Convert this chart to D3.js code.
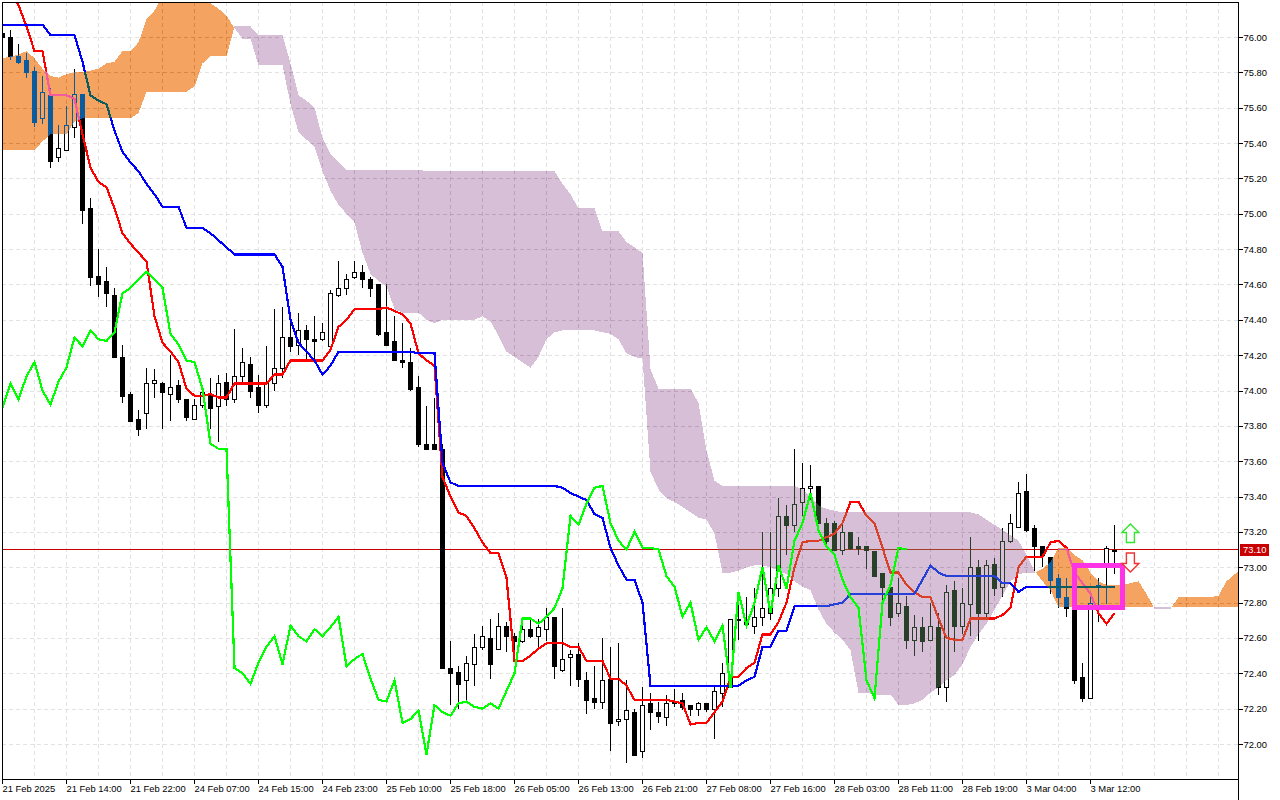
<!DOCTYPE html>
<html>
<head>
<meta charset="utf-8">
<script src="https://cdn.jsdelivr.net/npm/d3@7"></script>
<style>
html, body { margin: 0; padding: 0; background: #fff; }
svg { display: block; }
text { font-family: "Liberation Sans", sans-serif; font-size: 9.4px; fill: #000; }
</style>
</head>
<body>
<div id="chart"></div>
<script>
var wi = 1280;
var he = 800;

// ohlc, one row = 10 bars
var opens = [
  76.02,76.00,75.89,75.87,75.81,75.54,75.67,75.32,75.36,75.49,
  75.68,75.03,74.65,74.62,74.54,74.19,73.98,73.84,73.87,74.04,
  74.04,73.98,74.03,73.95,73.84,73.92,73.98,73.91,74.05,73.95,
  74.08,74.15,74.02,73.92,74.04,74.13,74.30,74.26,74.34,74.29,
  74.29,74.25,74.54,74.58,74.64,74.67,74.63,74.60,74.33,74.28,
  74.17,74.16,74.02,73.70,73.70,73.67,72.43,72.41,72.36,72.45,
  72.55,72.60,72.54,72.67,72.61,72.58,72.65,72.61,72.65,72.72,
  72.42,72.49,72.51,72.36,72.26,72.24,72.37,72.13,72.14,72.18,
  71.96,72.23,72.18,72.15,72.23,72.25,72.22,72.20,72.23,72.20,
  72.29,72.32,72.71,72.71,72.67,72.72,72.74,72.88,73.29,73.24,
  73.37,73.45,73.46,73.25,73.25,73.10,73.20,73.12,73.12,73.09,
  72.97,72.89,72.74,72.78,72.59,72.66,72.59,72.66,72.32,72.87,
  72.67,72.79,73.00,72.74,73.02,72.89,73.15,73.23,73.43,73.22,
  73.12,73.06,72.94,72.83,72.77,72.38,72.26,72.89,73.01,73.10];
var highs = [
  76.04,76.04,75.96,75.91,75.83,75.78,75.71,75.50,75.61,75.82,
  75.68,75.09,74.80,74.70,74.58,74.26,73.99,73.89,74.13,74.12,
  74.05,74.20,74.06,73.95,73.95,74.02,74.07,74.09,74.10,74.35,
  74.24,74.19,74.09,74.25,74.46,74.47,74.40,74.44,74.37,74.42,
  74.38,74.57,74.73,74.66,74.73,74.71,74.64,74.60,74.60,74.42,
  74.38,74.24,74.08,73.91,73.96,73.70,72.58,72.44,72.50,72.62,
  72.67,72.71,72.74,72.69,72.63,72.71,72.70,72.71,72.77,72.72,
  72.77,72.53,72.57,72.41,72.44,72.60,72.55,72.57,72.36,72.20,
  72.32,72.29,72.24,72.28,72.31,72.29,72.22,72.24,72.23,72.33,
  72.46,72.71,72.85,72.83,72.88,73.20,73.20,73.39,73.35,73.67,
  73.59,73.58,73.46,73.28,73.26,73.25,73.20,73.17,73.12,73.09,
  72.97,72.89,72.94,72.84,72.73,72.72,72.80,72.74,72.90,72.92,
  72.88,73.17,73.04,73.04,73.05,73.22,73.30,73.48,73.53,73.24,
  73.12,73.06,72.96,72.94,72.78,72.46,72.84,72.94,73.12,73.24];
var lows = [
  75.99,75.87,75.85,75.77,75.49,75.51,75.26,75.29,75.36,75.43,
  74.94,74.59,74.53,74.47,74.19,73.93,73.82,73.74,73.78,73.96,
  73.78,73.83,73.93,73.83,73.84,73.90,73.78,73.71,73.91,73.93,
  74.04,73.96,73.87,73.90,74.00,74.07,74.22,74.20,74.17,74.18,
  74.28,74.24,74.53,74.54,74.63,74.58,74.53,74.31,74.25,74.17,
  74.13,74.00,73.68,73.67,73.67,72.43,72.22,72.20,72.25,72.33,
  72.53,72.37,72.53,72.52,72.47,72.57,72.60,72.55,72.58,72.37,
  72.41,72.33,72.32,72.17,72.20,72.20,71.96,72.10,71.89,71.93,
  71.92,72.08,72.12,72.10,72.21,72.19,72.16,72.16,72.18,72.03,
  72.21,72.32,72.59,72.67,72.62,72.67,72.70,72.83,73.07,73.20,
  73.29,73.38,73.25,73.13,73.10,73.07,73.10,73.07,72.99,72.95,
  72.80,72.67,72.72,72.54,72.50,72.52,72.59,72.28,72.24,72.52,
  72.62,72.61,72.58,72.72,72.84,72.83,73.14,73.22,73.20,72.98,
  73.00,72.85,72.77,72.72,72.34,72.24,72.26,72.69,72.79,72.96];
var closes = [
  76.00,75.89,75.86,75.80,75.52,75.69,75.30,75.37,75.50,75.68,
  75.02,74.64,74.60,74.55,74.19,73.97,73.83,73.78,74.04,74.06,
  73.99,74.02,73.95,73.85,73.92,73.99,73.90,74.04,73.95,74.08,
  74.16,74.00,73.92,74.05,74.13,74.30,74.25,74.34,74.29,74.28,
  74.33,74.55,74.58,74.63,74.67,74.63,74.58,74.32,74.26,74.17,
  74.16,74.01,73.70,73.67,73.67,72.43,72.40,72.34,72.46,72.55,
  72.61,72.45,72.67,72.61,72.58,72.65,72.61,72.66,72.72,72.44,
  72.48,72.51,72.37,72.25,72.24,72.36,72.12,72.14,72.19,71.94,
  72.22,72.18,72.16,72.23,72.24,72.21,72.20,72.23,72.20,72.30,
  72.40,72.71,72.71,72.68,72.72,72.77,72.88,73.29,73.24,73.36,
  73.45,73.46,73.25,73.15,73.10,73.20,73.11,73.11,73.10,72.95,
  72.89,72.72,72.80,72.59,72.66,72.58,72.67,72.32,72.86,72.67,
  72.80,73.00,72.74,73.01,72.88,73.15,73.25,73.42,73.21,73.12,
  73.07,72.93,72.83,72.77,72.36,72.26,72.80,72.90,73.11,73.10];

// ichimoku
var tenkan = [
  76.30,76.24,76.18,76.06,75.92,75.92,75.67,75.67,75.67,75.65,
  75.45,75.26,75.18,75.15,75.03,74.89,74.83,74.78,74.73,74.42,
  74.27,74.22,74.16,74.01,73.97,73.97,73.98,73.96,73.96,74.04,
  74.04,74.04,74.04,74.04,74.09,74.09,74.17,74.17,74.17,74.17,
  74.17,74.23,74.36,74.40,74.46,74.46,74.46,74.46,74.47,74.45,
  74.43,74.38,74.21,74.17,74.14,73.51,73.40,73.31,73.29,73.22,
  73.14,73.08,73.08,72.94,72.47,72.47,72.50,72.54,72.57,72.57,
  72.57,72.55,72.55,72.47,72.47,72.47,72.37,72.37,72.33,72.25,
  72.25,72.25,72.25,72.25,72.24,72.23,72.11,72.12,72.12,72.18,
  72.24,72.38,72.38,72.43,72.46,72.62,72.62,72.69,72.80,73.00,
  73.14,73.15,73.15,73.17,73.19,73.25,73.37,73.37,73.29,73.25,
  73.11,72.97,72.97,72.90,72.86,72.83,72.83,72.71,72.60,72.59,
  72.59,72.71,72.71,72.71,72.71,72.73,72.77,73.00,73.06,73.06,
  73.06,73.14,73.15,73.11,72.97,72.91,72.85,72.74,72.68,72.74];
var kijun = [
  76.07,76.07,76.07,76.07,76.07,76.07,76.01,76.01,76.01,76.01,
  75.86,75.67,75.64,75.62,75.47,75.35,75.29,75.24,75.17,75.11,
  75.04,75.04,75.04,74.92,74.92,74.92,74.89,74.85,74.81,74.77,
  74.77,74.77,74.77,74.77,74.77,74.70,74.40,74.27,74.22,74.17,
  74.09,74.14,74.22,74.22,74.22,74.22,74.22,74.22,74.22,74.22,
  74.22,74.22,74.21,74.21,74.21,73.59,73.48,73.46,73.46,73.46,
  73.46,73.46,73.46,73.46,73.46,73.46,73.46,73.46,73.46,73.46,
  73.45,73.42,73.40,73.38,73.30,73.28,73.11,73.01,72.93,72.93,
  72.80,72.33,72.33,72.33,72.33,72.33,72.33,72.33,72.33,72.33,
  72.33,72.33,72.33,72.36,72.38,72.55,72.55,72.64,72.64,72.78,
  72.78,72.78,72.78,72.78,72.79,72.80,72.85,72.85,72.85,72.85,
  72.85,72.85,72.85,72.85,72.85,72.93,73.01,72.97,72.95,72.95,
  72.95,72.95,72.95,72.95,72.95,72.91,72.91,72.86,72.89,72.89,
  72.89,72.89,72.89,72.89,72.89,72.89,72.89,72.89,72.89,72.89];
var chikou = [
  73.90,74.04,73.95,74.08,74.16,74.00,73.92,74.05,74.13,74.30,
  74.25,74.34,74.29,74.28,74.33,74.55,74.58,74.63,74.67,74.63,
  74.58,74.32,74.26,74.17,74.16,74.01,73.70,73.67,73.67,72.43,
  72.40,72.34,72.46,72.55,72.61,72.45,72.67,72.61,72.58,72.65,
  72.61,72.66,72.72,72.44,72.48,72.51,72.37,72.25,72.24,72.36,
  72.12,72.14,72.19,71.94,72.22,72.18,72.16,72.23,72.24,72.21,
  72.20,72.23,72.20,72.30,72.40,72.71,72.71,72.68,72.72,72.77,
  72.88,73.29,73.24,73.36,73.45,73.46,73.25,73.15,73.10,73.20,
  73.11,73.11,73.10,72.95,72.89,72.72,72.80,72.59,72.66,72.58,
  72.67,72.32,72.86,72.67,72.80,73.00,72.74,73.01,72.88,73.15,
  73.25,73.42,73.21,73.12,73.07,72.93,72.83,72.77,72.36,72.26,
  72.80,72.90,73.11,73.10];
var senkouA = [
  75.88,75.89,75.90,75.92,75.88,75.82,75.78,75.77,75.79,75.80,
  75.80,75.81,75.82,75.85,75.86,75.92,75.92,75.97,76.10,76.15,
  76.23,76.23,76.23,76.23,76.23,76.23,76.19,76.16,76.12,76.05,
  75.99,75.99,75.84,75.84,75.84,75.84,75.62,75.46,75.42,75.38,
  75.24,75.13,75.05,75.00,74.95,74.78,74.66,74.62,74.59,74.46,
  74.44,74.44,74.44,74.40,74.38,74.40,74.40,74.40,74.40,74.40,
  74.42,74.39,74.31,74.22,74.19,74.16,74.13,74.19,74.29,74.33,
  74.34,74.34,74.34,74.34,74.34,74.33,74.32,74.29,74.21,74.19,
  74.18,73.54,73.44,73.39,73.37,73.34,73.31,73.28,73.27,73.19,
  72.97,72.97,72.98,73.00,73.01,73.01,73.00,72.98,72.96,72.92,
  72.89,72.87,72.76,72.68,72.63,72.59,72.53,72.29,72.29,72.28,
  72.28,72.28,72.22,72.22,72.23,72.25,72.29,72.32,72.36,72.39,
  72.45,72.55,72.62,72.68,72.76,72.84,72.92,72.96,72.97,72.97,
  72.99,73.03,73.11,73.11,73.07,73.04,72.97,72.92,72.90,72.90,
  72.90,72.91,72.92,72.85,72.765,72.765,72.765,72.83,72.83,72.83,
  72.83,72.83,72.84,72.92,72.96,72.99];
var senkouB = [
  75.36,75.36,75.36,75.36,75.36,75.41,75.45,75.45,75.45,75.52,
  75.54,75.54,75.54,75.54,75.54,75.54,75.54,75.57,75.69,75.69,
  75.69,75.69,75.69,75.69,75.72,75.85,75.89,75.89,75.89,76.06,
  76.06,76.06,76.01,76.01,76.01,76.01,75.85,75.67,75.64,75.60,
  75.43,75.34,75.29,75.25,75.25,75.25,75.25,75.25,75.25,75.25,
  75.25,75.25,75.25,75.24,75.24,75.24,75.24,75.24,75.24,75.24,
  75.24,75.24,75.24,75.24,75.24,75.24,75.24,75.24,75.24,75.24,
  75.17,75.11,75.03,75.03,75.03,74.90,74.90,74.90,74.84,74.81,
  74.78,74.12,74.01,74.01,74.01,74.01,74.01,73.93,73.66,73.49,
  73.46,73.46,73.46,73.46,73.46,73.46,73.46,73.46,73.46,73.46,
  73.44,73.40,73.35,73.33,73.32,73.31,73.31,73.31,73.31,73.31,
  73.31,73.31,73.31,73.31,73.31,73.31,73.31,73.31,73.31,73.31,
  73.31,73.31,73.30,73.27,73.24,73.21,73.18,73.15,73.07,72.98,
  72.92,72.87,72.775,72.775,72.775,72.775,72.775,72.775,72.775,72.775,
  72.775,72.775,72.775,72.775,72.775,72.775,72.775,72.775,72.775,72.775,
  72.775,72.775,72.775,72.775,72.775,72.775];

// axis labels
var priceTicks = [76,75.8,75.6,75.4,75.2,75,74.8,74.6,74.4,74.2,74,73.8,73.6,73.4,73.2,73,72.8,72.6,72.4,72.2,72];
var timeLabels = ["21 Feb 2025","21 Feb 14:00","21 Feb 22:00","24 Feb 07:00","24 Feb 15:00","24 Feb 23:00",
  "25 Feb 10:00","25 Feb 18:00","26 Feb 05:00","26 Feb 13:00","26 Feb 21:00","27 Feb 08:00",
  "27 Feb 16:00","28 Feb 03:00","28 Feb 11:00","28 Feb 19:00","3 Mar 04:00","3 Mar 12:00"];
var lastPrice = 73.10;
var boxBars = [134.08, 140.05];
var boxPrices = [73.01, 72.77];
var arrowBar = 141.05;
var arrowUpPrice = 73.245;
var arrowDownPrice = 72.973;

var left = 2, right = 1238, top_ = 2, bottom = 779;

var xScale = d3.scaleLinear().domain([0, 155]).range([2, 1242]);
var yScale = d3.scaleLinear().domain([76, 72]).range([37, 744]);

var svg = d3.select("#chart").append("svg")
  .attr("width", wi)
  .attr("height", he);

svg.append("rect").attr("width", wi).attr("height", he).attr("fill", "#fff");

svg.append("clipPath").attr("id", "plot")
  .append("rect")
  .attr("x", left).attr("y", top_)
  .attr("width", right - left).attr("height", bottom - top_);

var plot = svg.append("g").attr("clip-path", "url(#plot)");

// the clipped group blends on its own, so it needs its own white under the cloud
plot.append("rect")
  .attr("x", left).attr("y", top_)
  .attr("width", right - left).attr("height", bottom - top_)
  .attr("fill", "#fff");

//grid
var gridBars = d3.range(4, 155, 4);
plot.append("g").selectAll("line").data(gridBars).enter().append("line")
  .attr("x1", function(d) { return Math.round(xScale(d)) + 0.5; })
  .attr("x2", function(d) { return Math.round(xScale(d)) + 0.5; })
  .attr("y1", top_).attr("y2", bottom)
  .attr("stroke", "#e2e2e2").attr("stroke-dasharray", "4,3");
plot.append("g").selectAll("line").data(priceTicks).enter().append("line")
  .attr("y1", function(d) { return Math.round(yScale(d)) + 0.5; })
  .attr("y2", function(d) { return Math.round(yScale(d)) + 0.5; })
  .attr("x1", left).attr("x2", right)
  .attr("stroke", "#e2e2e2").attr("stroke-dasharray", "4,3");

// last price line
plot.append("line")
  .attr("x1", left).attr("x2", right)
  .attr("y1", Math.floor(yScale(lastPrice)) + 0.5)
  .attr("y2", Math.floor(yScale(lastPrice)) + 0.5)
  .attr("stroke", "#c80000");

//candles
var candles = plot.append("g").attr("shape-rendering", "crispEdges");
candles.selectAll("line").data(opens).enter().append("line")
  .attr("x1", function(d, i) { return xScale(i) + 0.5; })
  .attr("x2", function(d, i) { return xScale(i) + 0.5; })
  .attr("y1", function(d, i) { return Math.round(yScale(highs[i])); })
  .attr("y2", function(d, i) { return Math.round(yScale(lows[i])); })
  .attr("stroke", "#000");
candles.selectAll("rect").data(opens).enter().append("rect")
  .attr("x", function(d, i) { return xScale(i) - 1.5; })
  .attr("width", 4)
  .attr("y", function(d, i) { return Math.round(yScale(Math.max(d, closes[i]))) + 0.5; })
  .attr("height", function(d, i) { return Math.max(1, Math.round(yScale(Math.min(d, closes[i]))) - Math.round(yScale(Math.max(d, closes[i])))); })
  .attr("fill", function(d, i) { return closes[i] > d ? "#fff" : "#000"; })
  .attr("stroke", "#000");

function drawLine(g, values, color) {
  var line = d3.line()
    .x(function(d, i) { return xScale(i) + 0.5; })
    .y(function(d) { return yScale(d); });
  g.append("path")
    .attr("d", line(values))
    .attr("fill", "none")
    .attr("stroke", color)
    .attr("stroke-width", 2.2)
    .attr("shape-rendering", "crispEdges");
}

drawLine(plot, tenkan, "#ff0000");
drawLine(plot, kijun, "#0000ff");

// cloud: split where A and B cross, painted in difference mode like the terminal's xor fill
var segments = [];
var cur = [];
for (var i = 0; i < senkouA.length; i++) {
  cur.push({ i: i, a: senkouA[i], b: senkouB[i] });
  if (i < senkouA.length - 1) {
    var d0 = senkouA[i] - senkouB[i];
    var d1 = senkouA[i + 1] - senkouB[i + 1];
    if (d0 * d1 < 0) {
      var t = d0 / (d0 - d1);
      var pt = { i: i + t, a: senkouA[i] + t * (senkouA[i + 1] - senkouA[i]), b: senkouB[i] + t * (senkouB[i + 1] - senkouB[i]) };
      pt.b = pt.a;
      cur.push(pt);
      segments.push(cur);
      cur = [pt];
    }
  }
}
segments.push(cur);

var area = d3.area()
  .x(function(d) { return xScale(d.i) + 0.5; })
  .y0(function(d) { return yScale(d.a); })
  .y1(function(d) { return yScale(d.b); });

plot.append("g").selectAll("path").data(segments).enter().append("path")
  .attr("d", area)
  .attr("fill", function(d) {
    var above = d3.sum(d, function(p) { return p.a - p.b; }) > 0;
    return above ? "#0b5b9f" : "#274027"; // white minus sandybrown / thistle
  })
  .style("mix-blend-mode", "difference")
  .attr("shape-rendering", "crispEdges");

drawLine(plot, chikou, "#00ff00");

// pattern box
plot.append("rect")
  .attr("x", xScale(boxBars[0]))
  .attr("y", yScale(boxPrices[0]))
  .attr("width", xScale(boxBars[1]) - xScale(boxBars[0]))
  .attr("height", yScale(boxPrices[1]) - yScale(boxPrices[0]))
  .attr("fill", "none")
  .attr("stroke", "#ff33e6")
  .attr("stroke-width", 5)
  .attr("shape-rendering", "crispEdges");

// signal arrows, shape is in local px from the tip
var upShape = "M0,0 L8.5,8.5 L4,8.5 L4,18.5 L-4,18.5 L-4,8.5 L-8.5,8.5 Z";
var downShape = "M0,0 L8.5,-8.5 L4,-8.5 L4,-19 L-4,-19 L-4,-8.5 L-8.5,-8.5 Z";
plot.append("path")
  .attr("d", upShape)
  .attr("transform", "translate(" + xScale(arrowBar) + "," + yScale(arrowUpPrice) + ")")
  .attr("fill", "#fff").attr("stroke", "#32e632").attr("stroke-width", 1.4);
plot.append("path")
  .attr("d", downShape)
  .attr("transform", "translate(" + xScale(arrowBar) + "," + yScale(arrowDownPrice) + ")")
  .attr("fill", "#fff").attr("stroke", "#f03232").attr("stroke-width", 1.4);

// frame
var frame = svg.append("g").attr("stroke", "#000").attr("shape-rendering", "crispEdges");
frame.append("line").attr("x1", left + 0.5).attr("x2", left + 0.5).attr("y1", top_).attr("y2", bottom);
frame.append("line").attr("x1", left).attr("x2", right).attr("y1", top_ + 0.5).attr("y2", top_ + 0.5);
frame.append("line").attr("x1", left).attr("x2", right).attr("y1", bottom + 0.5).attr("y2", bottom + 0.5);
frame.append("line").attr("x1", right + 0.5).attr("x2", right + 0.5).attr("y1", top_).attr("y2", he);

// axes
var yAxis = d3.axisRight(yScale)
  .tickValues(priceTicks)
  .tickSize(4)
  .tickPadding(1)
  .tickFormat(d3.format(".2f"));
var gy = svg.append("g").attr("transform", "translate(" + (right + 0.5) + ",0)").call(yAxis);
gy.select(".domain").remove();

var timeTicks = timeLabels.map(function(d, i) { return i * 8; });
var xAxis = d3.axisBottom(xScale)
  .tickValues(timeTicks)
  .tickSize(4)
  .tickPadding(2)
  .tickFormat(function(d, i) { return timeLabels[i]; });
var gx = svg.append("g").attr("transform", "translate(0," + (bottom + 0.5) + ")").call(xAxis);
gx.select(".domain").remove();
gx.selectAll("text").attr("text-anchor", "start");
svg.selectAll("g[font-family]").attr("font-family", null).attr("font-size", null);
svg.selectAll(".tick line").attr("shape-rendering", "crispEdges");

// last price tag
var tagY = Math.floor(yScale(lastPrice));
svg.append("rect")
  .attr("x", right + 2).attr("y", tagY - 5)
  .attr("width", 29).attr("height", 12)
  .attr("fill", "#c80000");
svg.append("text")
  .attr("x", right + 5).attr("y", tagY + 4)
  .style("fill", "#fff")
  .text(d3.format(".2f")(lastPrice));
</script>
</body>
</html>
